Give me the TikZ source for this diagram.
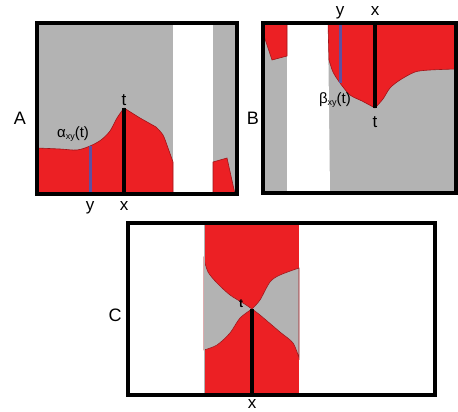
\documentclass[tikz,border=0pt]{standalone}
\usepackage{fontspec}
\setmainfont{Liberation Sans}
\definecolor{zred}{RGB}{236,32,36}
\definecolor{zredline}{RGB}{160,20,25}
\definecolor{zgray}{RGB}{179,179,179}
\definecolor{zpurple}{RGB}{95,80,160}
\tikzset{
  panel/.style={draw=black,line width=3.2pt},
  redzone/.style={fill=zred,draw=zredline,line width=0.6pt},
  grayzone/.style={fill=zgray,draw=zredline,line width=0.6pt},
  xline/.style={draw=black,line width=3.2pt},
  yline/.style={draw=zpurple,line width=3pt},
  biglab/.style={font=\fontsize{18}{20}\selectfont},
  axlab/.style={font=\fontsize{17}{19}\selectfont},
  fnlab/.style={font=\fontsize{15}{17}\selectfont}
}
\newcommand{\sxy}{\raisebox{-0.25ex}{\fontsize{9}{10}\selectfont xy}}
\begin{document}
\begin{tikzpicture}[x=1pt,y=-1pt]
  \useasboundingbox (0,0) rectangle (458,412);
  % A
  \fill[zgray] (37,23) rectangle (237,194);
  \fill[white] (173,23) rectangle (213,194);
  \draw[redzone] (37,194) -- (37,148) -- plot[smooth,tension=0.5] coordinates {(37,148) (60,149) (77,150) (90,146) (101,140) (110,131) (117,118) (124,108)}
    -- (140,118) -- (156,127) -- plot[smooth,tension=0.5] coordinates {(156,127) (163,135) (168,148) (173,162)} -- (173,194) -- cycle;
  \draw[redzone] (213,194) -- (213,162) -- (227,158) -- (235,194) -- cycle;
  \coordinate (ay) at (90,146); \coordinate (ay0) at (90,194);
  \coordinate (at) at (124,108); \coordinate (ax0) at (124,194);
  \draw[yline] (ay) -- (ay0);
  \draw[xline] (at) -- (ax0);
  \draw[panel] (37,23) rectangle (237,194);
  \node[biglab] (labA) at (20,118) {A};
  \node[axlab,anchor=base] (tA) at (124,105) {t};
  \node[axlab,anchor=base] (yA) at (90,210) {y};
  \node[axlab,anchor=base] (xA) at (124,210) {x};
  \node[fnlab] (alphaA) at (73,134) {α\sxy(t)};
  % B
  \fill[zgray] (263,23) rectangle (456,193);
  \fill[white] (287,23) -- (328,23) -- (330,193) -- (287,193) -- cycle;
  \draw[redzone] (263,23) -- (263,33) -- (272,60) -- (287,56) -- (287,23) -- cycle;
  \draw[redzone] (328,23) -- (329,60) -- plot[smooth,tension=0.5] coordinates {(329,60) (333,72) (340,83) (350,95) (362,101) (375,108)}
    -- plot[smooth,tension=0.5] coordinates {(375,108) (383,99) (390,88) (400,80) (415,72) (430,70) (456,69)} -- (456,23) -- cycle;
  \coordinate (by) at (340,83); \coordinate (by0) at (340,23);
  \coordinate (bt) at (375,108); \coordinate (bx0) at (375,23);
  \draw[yline] (by) -- (by0);
  \draw[xline] (bt) -- (bx0);
  \draw[panel] (263,23) rectangle (456,193);
  \node[biglab] (labB) at (253,118) {B};
  \node[axlab,anchor=base] (tB) at (375,127) {t};
  \node[axlab,anchor=base] (yB) at (340,16) {y};
  \node[axlab,anchor=base] (xB) at (375,16) {x};
  \node[fnlab] (betaB) at (335,100) {β\sxy(t)};
  % C
  \fill[zred] (204,223) rectangle (299,395);
  \draw[grayzone] plot[smooth,tension=0.5] coordinates {(204,259) (208,272) (217,283) (230,295) (243,303) (252,309)}
    -- plot[smooth,tension=0.5] coordinates {(252,309) (240,318) (230,333) (217,345) (204,350)} -- cycle;
  \draw[grayzone] plot[smooth,tension=0.5] coordinates {(252,309) (260,300) (270,282) (280,275) (299,268)}
    -- (299,358) -- plot[smooth,tension=0.5] coordinates {(299,358) (293,343) (280,332) (260,315) (252,309)} -- cycle;
  \draw[zgray,line width=0.6pt] (204,223) -- (204,395);
  \coordinate (ct) at (252,309); \coordinate (cx0) at (252,395);
  \draw[xline] (ct) -- (cx0);
  \draw[panel] (128,223) rectangle (435,395);
  \node[biglab] (labC) at (115,315) {C};
  \node[font=\fontsize{12}{13}\selectfont\bfseries] (tC) at (241,304) {t};
  \node[axlab,anchor=base,inner sep=1pt] (xC) at (252,408) {x};
\end{tikzpicture}
\end{document}
